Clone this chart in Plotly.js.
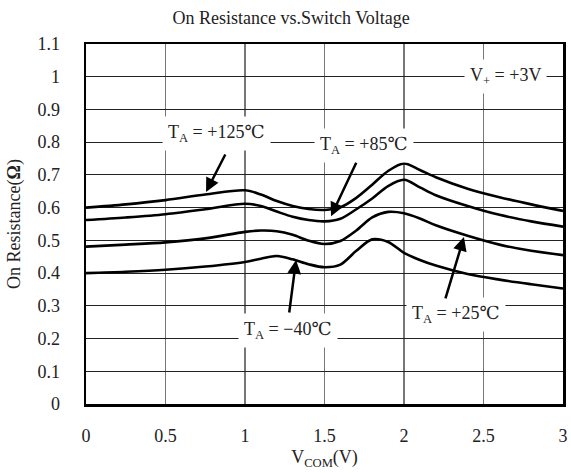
<!DOCTYPE html>
<html>
<head>
<meta charset="utf-8">
<script src="https://cdn.plot.ly/plotly-3.0.1.min.js"></script>
<style>html,body{margin:0;padding:0;background:#fff;}#chart{width:571px;height:473px;}</style>
</head>
<body>
<div id="chart"></div>
<script>
// Data
const vcom = [0, 0.25, 0.5, 0.75, 1.0, 1.1, 1.2, 1.3, 1.4, 1.5, 1.6, 1.7, 1.8, 1.9, 2.0, 2.1, 2.2, 2.4, 2.6, 2.8, 3.0];
const r125 = [0.600, 0.610, 0.623, 0.640, 0.653, 0.640, 0.620, 0.605, 0.596, 0.593, 0.601, 0.630, 0.670, 0.712, 0.735, 0.715, 0.693, 0.658, 0.632, 0.610, 0.590];
const r85  = [0.562, 0.570, 0.580, 0.595, 0.612, 0.605, 0.588, 0.572, 0.562, 0.558, 0.566, 0.595, 0.628, 0.666, 0.685, 0.662, 0.638, 0.605, 0.578, 0.558, 0.542];
const r25  = [0.481, 0.487, 0.494, 0.506, 0.526, 0.530, 0.528, 0.517, 0.499, 0.489, 0.498, 0.530, 0.570, 0.587, 0.583, 0.567, 0.546, 0.514, 0.487, 0.468, 0.455];
const rm40 = [0.400, 0.404, 0.410, 0.420, 0.434, 0.444, 0.452, 0.442, 0.427, 0.418, 0.426, 0.468, 0.503, 0.495, 0.462, 0.440, 0.423, 0.397, 0.380, 0.366, 0.353];

const xTickVals = [0, 0.5, 1, 1.5, 2, 2.5, 3];
const xTickText = ['0', '0.5', '1', '1.5', '2', '2.5', '3'];
const yTickVals = [0, 0.1, 0.2, 0.3, 0.4, 0.5, 0.6, 0.7, 0.8, 0.9, 1.0, 1.1];
const yTickText = ['0', '0.1', '0.2', '0.3', '0.4', '0.5', '0.6', '0.7', '0.8', '0.9', '1', '1.1'];

const seriesNames = ['T<sub>A</sub> = +125℃', 'T<sub>A</sub> = +85℃', 'T<sub>A</sub> = +25℃', 'T<sub>A</sub> = −40℃'];
const seriesData = [r125, r85, r25, rm40];

const FONT = '"Liberation Serif", "DejaVu Serif", serif';
const TXT = '#222';

const traces = seriesData.map((y, i) => ({
  x: vcom, y: y, type: 'scatter', mode: 'lines', name: seriesNames[i],
  line: {color: '#000', width: 2.6, shape: 'spline', smoothing: 0.9},
  hoverinfo: 'skip'
}));

function label(text, x, y) {
  return {x: x, y: y, xref: 'x', yref: 'y', text: text, showarrow: false,
    bgcolor: '#fff', borderpad: 5, font: {family: FONT, size: 18, color: TXT}};
}
function arrow(xTail, yTail, xHead, yHead) {
  return {x: xHead, y: yHead, ax: xTail, ay: yTail, xref: 'x', yref: 'y', axref: 'x', ayref: 'y',
    text: '', showarrow: true, arrowhead: 2, arrowsize: 1.1, arrowwidth: 2.5, arrowcolor: '#000'};
}

const layout = {
  width: 571, height: 473,
  margin: {l: 86, r: 8, t: 44, b: 69},
  paper_bgcolor: '#fff', plot_bgcolor: '#fff',
  showlegend: false,
  font: {family: FONT, size: 18, color: TXT},
  title: {text: 'On Resistance vs.Switch Voltage', x: 0.51, xanchor: 'center', y: 0.963, yanchor: 'middle',
          font: {family: FONT, size: 18, color: TXT}},
  xaxis: {
    range: [0, 3], tickvals: xTickVals, ticktext: xTickText,
    showgrid: true, gridcolor: '#777', gridwidth: 1.3,
    showline: true, linecolor: '#000', linewidth: 2.5, mirror: true,
    ticks: '', ticklabelstandoff: 14, zeroline: false,
    tickfont: {family: FONT, size: 18, color: TXT},
    title: {text: 'V<sub>COM</sub>(V)', standoff: 6, font: {family: FONT, size: 18, color: TXT}}
  },
  yaxis: {
    range: [0, 1.1], tickvals: yTickVals, ticktext: yTickText,
    showgrid: true, gridcolor: '#222', gridwidth: 1,
    showline: true, linecolor: '#000', linewidth: 2.5, mirror: true,
    ticks: '', ticklabelstandoff: 20, zeroline: false,
    tickfont: {family: FONT, size: 18, color: TXT},
    title: {text: 'On Resistance(<b>Ω</b>)', standoff: 12, font: {family: FONT, size: 18, color: TXT}}
  },
  annotations: [
    label(seriesNames[0], 0.818, 0.828),
    label(seriesNames[1], 1.748, 0.790),
    label(seriesNames[3], 1.27, 0.226),
    label(seriesNames[2], 2.327, 0.275),
    label('V<sub>+</sub> = +3V', 2.64, 1.0),
    arrow(0.881, 0.767, 0.755, 0.648),
    arrow(1.704, 0.742, 1.541, 0.574),
    arrow(1.277, 0.275, 1.321, 0.44),
    arrow(2.258, 0.318, 2.377, 0.510)
  ]
};

Plotly.newPlot('chart', traces, layout, {displayModeBar: false, staticPlot: true});
</script>
</body>
</html>
